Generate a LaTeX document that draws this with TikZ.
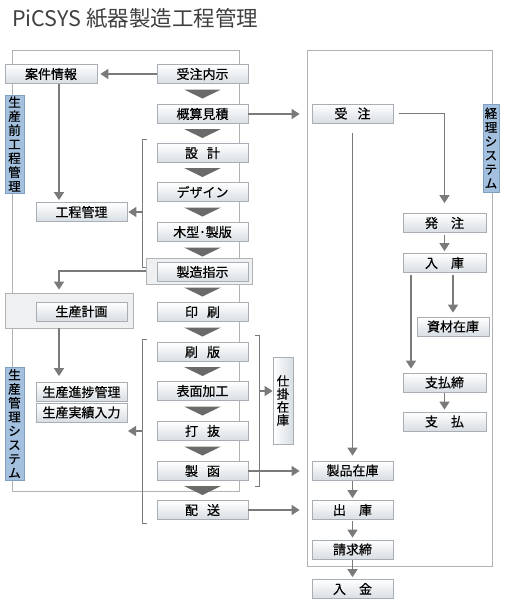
\documentclass[tikz,border=0pt]{standalone}
\usepackage{fontspec}
\setmainfont{Noto Sans CJK JP}
\newfontfamily\boxfont[FakeBold=0.5]{Noto Sans CJK JP}
\usetikzlibrary{arrows.meta,calc}
\definecolor{framec}{HTML}{B2B2B2}
\definecolor{connc}{HTML}{7A7A7A}
\definecolor{boxb}{HTML}{D8DEE3}
\definecolor{boxd}{HTML}{A8AEB4}
\definecolor{chevc}{HTML}{6A6A6A}
\definecolor{labc}{HTML}{A3C1DF}
\definecolor{labd}{HTML}{7F9FC2}
\definecolor{titlec}{HTML}{404040}
\definecolor{panelc}{HTML}{EFF0F1}
\begin{document}
\begin{tikzpicture}[x=1pt,y=-1pt,
  box/.style={draw=boxd, line width=0.7pt, top color=white, bottom color=boxb, minimum height=19pt, inner sep=0pt, font=\boxfont\fontsize{13}{14}\selectfont, text=black},
  cbox/.style={box, minimum width=91pt},
  lbox/.style={box, minimum width=91pt},
  rbox/.style={box, minimum width=81pt},
  r2box/.style={box, minimum width=83pt},
  panel/.style={draw=framec, line width=0.7pt, fill=panelc, inner sep=0pt},
  frameline/.style={draw=framec, line width=0.9pt},
  conn/.style={draw=connc, line width=1.3pt, -{Triangle[length=8pt,width=10pt]}},
  bracket/.style={draw=connc, line width=1pt},
  vlab/.style={draw=labd, line width=0.6pt, fill=labc, inner sep=0pt, align=center, font=\boxfont\fontsize{12.5}{14}\selectfont, text=black},
  chev/.style={fill=chevc}
]
\useasboundingbox (0,0) rectangle (506,603);

% title
\node[anchor=west, inner sep=0pt, font=\fontsize{21.5}{24}\selectfont, text=titlec] (title) at (12,18) {PiCSYS 紙器製造工程管理};

% frames
\draw[frameline] (12,50) rectangle (239,491);
\draw[frameline] (307,50) rectangle (492,566);

% vertical labels
\node[vlab, minimum width=19pt, minimum height=98pt] (labA) at (14.5,144) {生\\産\\前\\工\\程\\管\\理};
\node[vlab, minimum width=19pt, minimum height=113pt] (labB) at (14.5,423.5) {生\\産\\管\\理\\シ\\ス\\テ\\ム};
\node[vlab, minimum width=16pt, minimum height=88pt] (labC) at (491,148) {経\\理\\シ\\ス\\テ\\ム};

% panels
\node[panel, minimum width=106pt, minimum height=26pt] (seizoframe) at (199,271) {};
\node[panel, minimum width=128pt, minimum height=35pt] (keikakuframe) at (69,310.5) {};

% center column
\node[cbox] (juchunaiji) at (202.5,74) {受注内示};
\node[cbox] (gaisan) at (202.5,114) {概算見積};
\node[cbox] (sekkei) at (202.5,153) {設\hspace{9pt}計};
\node[cbox] (design) at (202.5,192) {デザイン};
\node[cbox] (kigata) at (202.5,232) {木型･製版};
\node[cbox] (seizo) at (202.5,272) {製造指示};
\node[cbox] (insatsu) at (202.5,312) {印\hspace{9pt}刷};
\node[cbox] (sappan) at (202.5,352) {刷\hspace{9pt}版};
\node[cbox] (hyomen) at (202.5,391) {表面加工};
\node[cbox] (uchinuki) at (202.5,431) {打\hspace{9pt}抜};
\node[cbox] (seikan) at (202.5,471) {製\hspace{9pt}函};
\node[cbox] (haiso) at (202.5,510) {配\hspace{9pt}送};

% left column
\node[box, minimum width=92pt] (anken) at (51,74) {案件情報};
\node[lbox] (kotei) at (81.5,212) {工程管理};
\node[lbox] (keikaku) at (81.5,311.5) {生産計画};
\node[lbox] (shinchoku) at (81.5,392) {生産進捗管理};
\node[lbox] (jisseki) at (81.5,412.5) {生産実績入力};

% shikake
\node[draw=boxd, line width=0.7pt, left color=white, right color=boxb, minimum width=20pt, minimum height=87pt, inner sep=0pt, align=center, font=\boxfont\fontsize{12.5}{13}\selectfont] (shikake) at (283,400.5) {仕\\掛\\在\\庫};

% right column
\node[rbox] (juchu) at (352.5,113.5) {受\hspace{10pt}注};
\node[rbox] (seihin) at (352.5,470.5) {製品在庫};
\node[rbox] (shukko) at (352.5,510) {出\hspace{13pt}庫};
\node[rbox] (seikyu) at (352.5,549.5) {請求締};
\node[rbox] (nyukin) at (352.5,589) {入\hspace{13pt}金};
\node[r2box] (hatchu) at (444.5,223) {発\hspace{13pt}注};
\node[r2box] (nyuko) at (444.5,263) {入\hspace{13pt}庫};
\node[box, minimum width=72pt] (shizai) at (453,326.5) {資材在庫};
\node[r2box] (shime) at (444.5,382.5) {支払締};
\node[r2box] (shiharai) at (444.5,421.5) {支\hspace{13pt}払};

% chevrons
\foreach \a/\b in {juchunaiji/gaisan, gaisan/sekkei, sekkei/design, design/kigata, kigata/seizo, seizo/insatsu, insatsu/sappan, sappan/hyomen, hyomen/uchinuki, uchinuki/seikan, seikan/haiso}
  \fill[chev] ($(\a.south)!0.5!(\b.north)$) ++(-18.5,-4.5) -- ++(37,0) -- ++(-18.5,9) -- cycle;

% brackets
\coordinate (b1a) at (147,139);
\coordinate (b1b) at (142,139);
\coordinate (b1c) at (142,267);
\coordinate (b1d) at (146,267);
\coordinate (b1m) at (142,212);
\draw[bracket] (b1a) -- (b1b) -- (b1c) -- (b1d);
\coordinate (b2a) at (147,339);
\coordinate (b2b) at (142,339);
\coordinate (b2c) at (142,523);
\coordinate (b2d) at (147,523);
\coordinate (b2m) at (142,431);
\coordinate (b2e) at (128,431);
\draw[bracket] (b2a) -- (b2b) -- (b2c) -- (b2d);
\coordinate (b3a) at (255,335);
\coordinate (b3b) at (259,335);
\coordinate (b3c) at (259,486);
\coordinate (b3d) at (255,486);
\coordinate (b3m) at (259,391);
\draw[bracket] (b3a) -- (b3b) -- (b3c) -- (b3d);
\draw[bracket] (seikan.east) -- (seikan.east -| b3b);

% connectors (left)
\draw[conn, shorten >=3pt] (juchunaiji.west) -- (anken.east);
\draw[conn, shorten >=2pt] ([xshift=8pt]anken.south) -- ([xshift=8pt]anken.south |- kotei.north);
\draw[conn, shorten >=1pt] (b1m) -- (b1m -| kotei.east);
\draw[conn, shorten >=3pt] (seizoframe.west) -| ([xshift=-10pt]keikakuframe.north);
\draw[conn, shorten >=6pt] ([xshift=-10pt]keikakuframe.south) -- ([xshift=-10pt]keikakuframe.south |- shinchoku.north);
\draw[conn] (b2m) -- (b2e);
\draw[conn] (b3m) -- (b3m -| shikake.west);

% connectors (to accounting)
\draw[conn, shorten >=12pt] (gaisan.east) -- (gaisan.east -| juchu.west);
\draw[conn, shorten >=12pt] (seikan.east) -- (seikan.east -| seihin.west);
\draw[conn, shorten >=12pt] (haiso.east) -- (haiso.east -| shukko.west);

% connectors (right)
\draw[conn, shorten <=6pt, shorten >=10pt] (juchu.east) -| (hatchu.north);
\draw[conn, shorten <=10pt, shorten >=5pt] (juchu.south) -- (seihin.north);
\draw[conn, shorten <=2pt, shorten >=2pt] (hatchu.south) -- (nyuko.north);
\draw[conn, shorten <=2pt, shorten >=4pt] (nyuko.south -| shizai.north) -- (shizai.north);
\draw[conn, shorten <=2pt, shorten >=4pt] ([xshift=-33.5pt]nyuko.south) -- ([xshift=-33.5pt]shime.north);
\draw[conn, shorten <=1pt, shorten >=2pt] (shime.south) -- (shiharai.north);
\draw[conn, shorten <=1pt, shorten >=2pt] (seihin.south) -- (shukko.north);
\draw[conn, shorten <=1pt, shorten >=2pt] (shukko.south) -- (seikyu.north);
\draw[conn, shorten <=1pt, shorten >=2pt] (seikyu.south) -- (nyukin.north);
\end{tikzpicture}
\end{document}
